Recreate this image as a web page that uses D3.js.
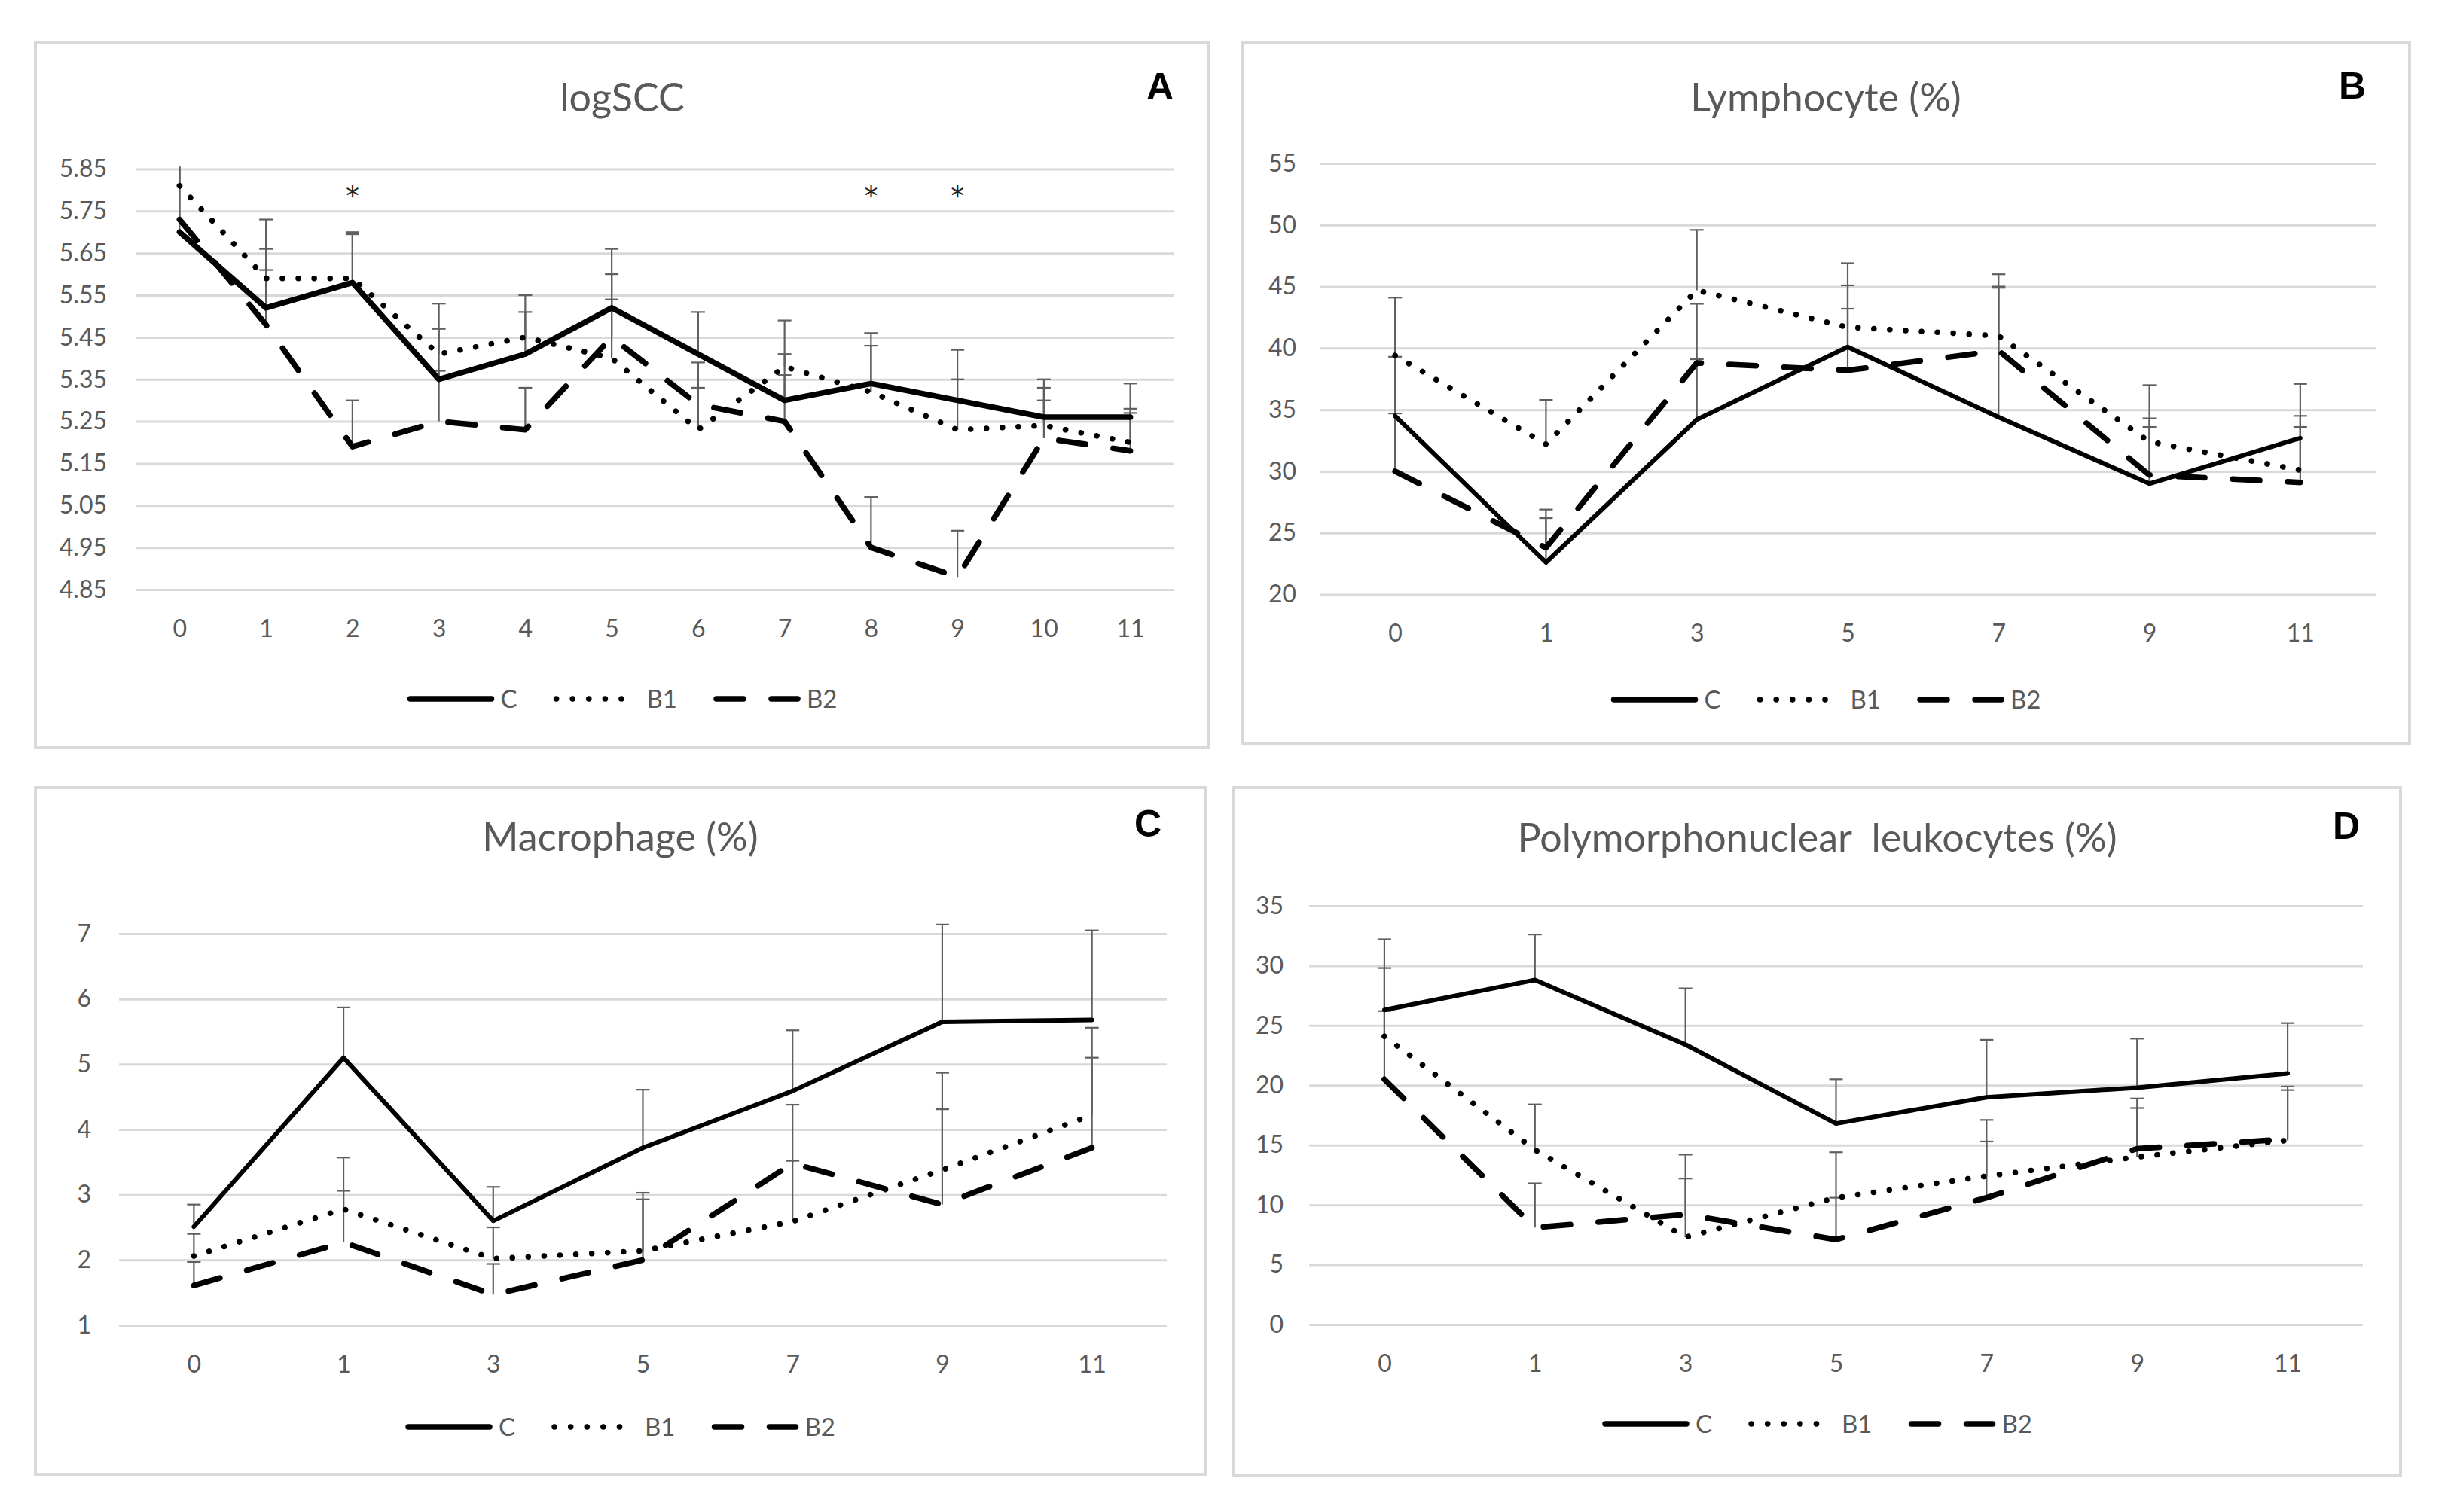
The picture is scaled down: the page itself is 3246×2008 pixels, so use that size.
<!DOCTYPE html>
<html>
<head>
<meta charset="utf-8">
<script src="https://cdn.jsdelivr.net/npm/d3@7"></script>
<style>
  body { margin: 0; background: #fff; }
  text { font-family: Lato, 'Open Sans', sans-serif; }
</style>
</head>
<body>
<script>
// ---- data ----
const weeksA = [0, 1, 2, 3, 4, 5, 6, 7, 8, 9, 10, 11];
const weeksB = [0, 1, 3, 5, 7, 9, 11];

// A: logSCC
const sccC  = [5.70, 5.52, 5.58, 5.35, 5.41, 5.52, 5.41, 5.30, 5.34, 5.30, 5.26, 5.26];
const sccB1 = [5.81, 5.59, 5.59, 5.41, 5.45, 5.40, 5.23, 5.38, 5.32, 5.23, 5.24, 5.20];
const sccB2 = [5.73, 5.48, 5.19, 5.25, 5.23, 5.45, 5.29, 5.25, 4.95, 4.88, 5.21, 5.18];
const sccUpC  = [5.88, 5.66, 5.70, 5.47, 5.51, 5.66, 5.51, 5.41, 5.46, 5.42, 5.35, 5.34];
const sccUpB1 = [5.93, 5.73, 5.695, 5.53, 5.55, 5.54, 5.33, 5.49, 5.43, 5.35, 5.33, 5.28];
const sccUpB2 = [5.87, 5.61, 5.30, 5.37, 5.33, 5.60, 5.39, 5.36, 5.07, 4.99, 5.30, 5.27];
const sccTicks = [4.85, 4.95, 5.05, 5.15, 5.25, 5.35, 5.45, 5.55, 5.65, 5.75, 5.85];
const sccStars = [2, 8, 9];

// B: Lymphocyte (%)
const lymC  = [34.5, 22.6, 34.2, 40.1, 34.4, 29.0, 32.7];
const lymB1 = [39.4, 32.2, 44.7, 41.7, 41.0, 32.4, 30.1];
const lymB2 = [30.0, 23.8, 38.8, 38.2, 39.8, 29.7, 29.1];
const lymUpC  = [39.3, 26.2, 39.1, 45.1, 45.0, 33.6, 37.1];
const lymUpB1 = [44.1, 35.8, 49.6, 46.9, 46.0, 37.0, 34.5];
const lymUpB2 = [34.7, 26.9, 43.6, 43.2, 44.9, 34.3, 33.6];
const lymTicks = [20, 25, 30, 35, 40, 45, 50, 55];

// C: Macrophage (%)
const macC  = [2.51, 5.10, 2.60, 3.72, 4.59, 5.65, 5.68];
const macB1 = [2.06, 2.78, 2.02, 2.14, 2.59, 3.38, 4.22];
const macB2 = [1.61, 2.27, 1.47, 2.00, 3.48, 2.85, 3.72];
const macUpC  = [2.85, 5.87, 3.12, 4.61, 5.52, 7.14, 7.05];
const macUpB1 = [2.40, 3.57, 2.50, 3.03, 3.52, 4.87, 5.56];
const macUpB2 = [1.97, 3.06, 1.94, 2.93, 4.38, 4.31, 5.10];
const macTicks = [1, 2, 3, 4, 5, 6, 7];

// D: Polymorphonuclear leukocytes (%)
const pmnC  = [26.3, 28.8, 23.4, 16.8, 19.0, 19.8, 21.0];
const pmnB1 = [24.1, 14.6, 7.3, 10.6, 12.4, 14.0, 15.4];
const pmnB2 = [20.5, 8.1, 9.2, 7.1, 10.6, 14.7, 15.5];
const pmnUpC  = [32.2, 32.6, 28.1, 20.5, 23.8, 23.9, 25.2];
const pmnUpB1 = [29.8, 18.4, 14.2, 14.4, 17.1, 18.1, 19.6];
const pmnUpB2 = [26.2, 11.8, 12.2, 10.6, 15.3, 18.9, 19.9];
const pmnTicks = [0, 5, 10, 15, 20, 25, 30, 35];

const groups = ["C", "B1", "B2"];

// ---- drawing ----
const svg = d3.select("body").append("svg")
    .attr("width", 3246)
    .attr("height", 2008);

svg.append("rect").attr("width", 3246).attr("height", 2008).attr("fill", "#fff");

const textCol = "#595959";
const gridCol = "#d9d9d9";
const errCol = "#5f5f5f";

function styleFor(g, solidW) {
    if (g === "C") return { w: solidW, dash: null };
    if (g === "B1") return { w: 7.5, dash: "0.1,21" };
    return { w: 7.5, dash: "36,37" };
}

function panel(p, idx) {
    const root = svg.append("g");

    root.append("rect")
        .attr("x", p.box[0]).attr("y", p.box[1])
        .attr("width", p.box[2] - p.box[0]).attr("height", p.box[3] - p.box[1])
        .attr("fill", "#fff").attr("stroke", gridCol).attr("stroke-width", 4);

    const x = d3.scalePoint().domain(p.weeks).range([p.left, p.right]).padding(0.5);
    const y = d3.scaleLinear().domain(p.domain).range([p.bottom, p.top]);

    // grid + y labels
    const yAxis = root.append("g")
        .attr("transform", `translate(${p.left},0)`)
        .call(d3.axisLeft(y).tickValues(p.ticks).tickFormat(p.fmt)
            .tickSizeInner(-(p.right - p.left)).tickSizeOuter(0).tickPadding(p.ypad));
    yAxis.select(".domain").remove();
    yAxis.selectAll("line").attr("stroke", gridCol).attr("stroke-width", 3);
    yAxis.selectAll("text").attr("fill", textCol).attr("font-size", 32);

    // x labels
    const xAxis = root.append("g")
        .attr("transform", `translate(0,${p.bottom})`)
        .call(d3.axisBottom(x).tickSize(0).tickPadding(40));
    xAxis.select(".domain").remove();
    xAxis.selectAll("text").attr("fill", textCol).attr("font-size", 32);

    // title + letter
    root.append("text")
        .attr("x", (p.box[0] + p.box[2]) / 2).attr("y", p.titleY)
        .attr("text-anchor", "middle").attr("fill", textCol)
        .attr("font-size", 52).style("white-space", "pre")
        .text(p.title);
    root.append("text")
        .attr("x", p.letterX).attr("y", p.letterY)
        .attr("text-anchor", "middle").attr("fill", "#000")
        .attr("font-size", 50).attr("font-weight", "bold")
        .style("font-family", "'Liberation Sans', Arial, sans-serif")
        .text(p.letter);

    const clipId = "clip" + idx;
    root.append("clipPath").attr("id", clipId)
        .append("rect")
        .attr("x", p.box[0]).attr("y", p.top - p.clipPad)
        .attr("width", p.box[2] - p.box[0]).attr("height", p.bottom - p.top + 200);

    const plot = root.append("g").attr("clip-path", `url(#${clipId})`);

    // error bars (upper only)
    groups.forEach((g, gi) => {
        const vals = p.series[gi], ups = p.upper[gi];
        const eb = plot.append("g").attr("stroke", errCol).attr("stroke-width", 2.2);
        p.weeks.forEach((w, i) => {
            const cx = x(w);
            eb.append("line")
                .attr("x1", cx).attr("x2", cx)
                .attr("y1", y(vals[i])).attr("y2", y(ups[i]));
            eb.append("line")
                .attr("x1", cx - 9).attr("x2", cx + 9)
                .attr("y1", y(ups[i])).attr("y2", y(ups[i]));
        });
    });

    // series lines
    const line = d3.line().x((d, i) => x(p.weeks[i])).y(d => y(d));
    groups.forEach((g, gi) => {
        const st = styleFor(g, p.solidW);
        plot.append("path")
            .datum(p.series[gi])
            .attr("d", line)
            .attr("fill", "none")
            .attr("stroke", "#000")
            .attr("stroke-width", st.w)
            .attr("stroke-linecap", "round")
            .attr("stroke-linejoin", "round")
            .attr("stroke-dasharray", st.dash);
    });

    // significance marks
    (p.stars || []).forEach(w => {
        root.append("text")
            .attr("x", x(w)).attr("y", y(5.80)).attr("dy", "0.55em")
            .attr("text-anchor", "middle").attr("fill", "#222")
            .attr("font-size", 36)
            .style("font-family", "'DejaVu Sans', sans-serif")
            .text("*");
    });

    // legend
    const leg = root.append("g");
    let cursor = 0;
    groups.forEach(g => {
        const st = styleFor(g, 7.5);
        const it = leg.append("g").attr("transform", `translate(${cursor},0)`);
        it.append("line")
            .attr("x1", 4).attr("x2", 112).attr("y1", 0).attr("y2", 0)
            .attr("stroke", "#000").attr("stroke-width", st.w)
            .attr("stroke-linecap", "round")
            .attr("stroke-dasharray", g === "B1" ? "0.1,21.5" : st.dash);
        const t = it.append("text")
            .attr("x", 124).attr("y", 0).attr("dy", "0.36em")
            .attr("fill", textCol).attr("font-size", 33)
            .text(g);
        cursor += 124 + t.node().getComputedTextLength() + 48;
    });
    cursor -= 48;
    leg.attr("transform", `translate(${(p.box[0] + p.box[2]) / 2 - cursor / 2},${p.legendY})`);
}

const panels = [
    { box: [47, 56, 1605, 993], left: 181, right: 1558, top: 224.5, bottom: 783,
      weeks: weeksA, domain: [4.85, 5.85], ticks: sccTicks, fmt: d3.format(".2f"), ypad: 39,
      series: [sccC, sccB1, sccB2], upper: [sccUpC, sccUpB1, sccUpB2], solidW: 7.5, clipPad: 3,
      title: "logSCC", titleY: 148, letter: "A", letterX: 1540, letterY: 132,
      legendY: 928, stars: sccStars },
    { box: [1649, 56, 3199, 988], left: 1752, right: 3154, top: 217, bottom: 789.5,
      weeks: weeksB, domain: [20, 55], ticks: lymTicks, fmt: d3.format("d"), ypad: 31,
      series: [lymC, lymB1, lymB2], upper: [lymUpC, lymUpB1, lymUpB2], solidW: 6, clipPad: 40,
      title: "Lymphocyte (%)", titleY: 148, letter: "B", letterX: 3123, letterY: 131,
      legendY: 929 },
    { box: [47, 1046, 1600, 1958], left: 158, right: 1549, top: 1240, bottom: 1760,
      weeks: weeksB, domain: [1, 7], ticks: macTicks, fmt: d3.format("d"), ypad: 37,
      series: [macC, macB1, macB2], upper: [macUpC, macUpB1, macUpB2], solidW: 6, clipPad: 40,
      title: "Macrophage (%)", titleY: 1130, letter: "C", letterX: 1524, letterY: 1111,
      legendY: 1895 },
    { box: [1638, 1046, 3187, 1960], left: 1738, right: 3137, top: 1203, bottom: 1759,
      weeks: weeksB, domain: [0, 35], ticks: pmnTicks, fmt: d3.format("d"), ypad: 34,
      series: [pmnC, pmnB1, pmnB2], upper: [pmnUpC, pmnUpB1, pmnUpB2], solidW: 6, clipPad: 40,
      title: "Polymorphonuclear  leukocytes (%)", titleY: 1131, letter: "D", letterX: 3115, letterY: 1114,
      legendY: 1891 }
];

panels.forEach(panel);
</script>
</body>
</html>
